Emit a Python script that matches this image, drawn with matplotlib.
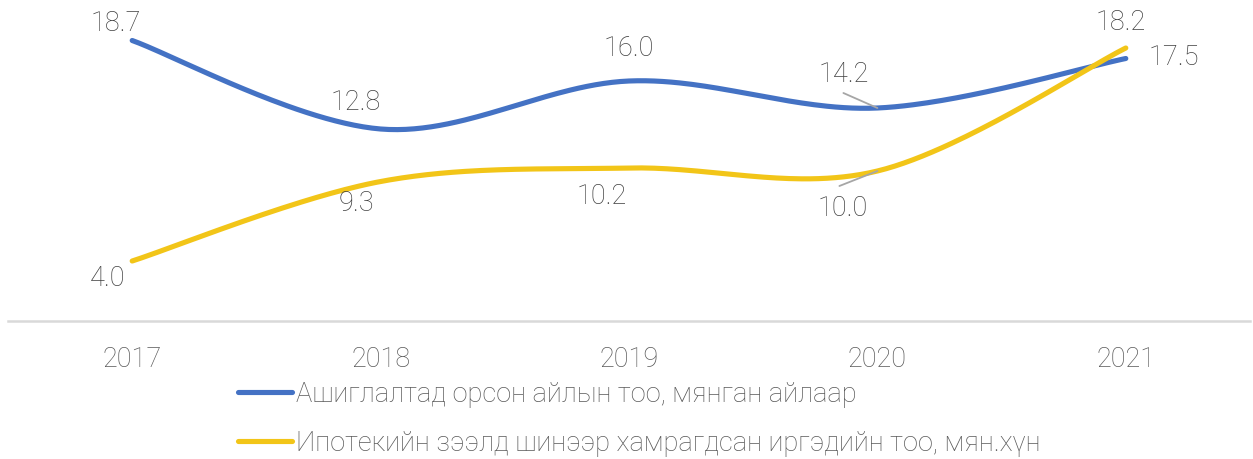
import numpy as np
import matplotlib
matplotlib.use("Agg")
import matplotlib.pyplot as plt

#Chart data
years = ["2017", "2018", "2019", "2020", "2021"]
households = [18.7, 12.8, 16.0, 14.2, 17.5]
mortgage_people = [4.0, 9.3, 10.2, 10.0, 18.2]
series_names = [
    "Ашиглалтад орсон айлын тоо, мянган айлаар",
    "Ипотекийн зээлд шинээр хамрагдсан иргэдийн тоо, мян.хүн",
]

#Label offsets in pixels (dx, dy) for each point
household_offsets = [(-16, 17), (-25, 26), (0, 33), (-34, 34), (48, 1)]
mortgage_offsets = [(-25, -18), (-24, -22), (-27, -28), (-35, -37), (-5, 26)]
#Leader line ends for the 2020 labels (pixels from the point)
household_leader = (-34, 15)
mortgage_leader = (-38, -15)

blue = "#4472C4"
yellow = "#F2C518"
text_color = "#404040"

plt.rcParams["font.family"] = ["Roboto", "DejaVu Sans"]
plt.rcParams["font.weight"] = "light"


def smooth_curve(ys, sx=248.0, sy=15.0, steps=60):
    #Excel style smoothing: bezier segments with catmull-rom control points
    pts = np.column_stack([np.arange(len(ys)) * sx, np.array(ys) * sy])
    out = []
    for i in range(len(pts) - 1):
        p0 = pts[i - 1] if i > 0 else pts[i]
        p1 = pts[i]
        p2 = pts[i + 1]
        p3 = pts[i + 2] if i + 2 < len(pts) else pts[i + 1]
        c1 = p1 + (p2 - p0) / 6
        c2 = p2 - (p3 - p1) / 6
        t = np.linspace(0, 1, steps)[:, None]
        seg = ((1 - t) ** 3) * p1 + 3 * ((1 - t) ** 2) * t * c1 + 3 * (1 - t) * t ** 2 * c2 + t ** 3 * p2
        out.append(seg if i == 0 else seg[1:])
    curve = np.vstack(out)
    return curve[:, 0] / sx, curve[:, 1] / sy


fig = plt.figure(figsize=(12.53, 4.59), dpi=100)
ax = fig.add_axes([8 / 1253, (459 - 321) / 459, 1242 / 1253, 300 / 459])

x = np.arange(len(years))

for values, color, name in [(households, blue, series_names[0]), (mortgage_people, yellow, series_names[1])]:
    cx, cy = smooth_curve(values)
    ax.plot(cx, cy, color=color, linewidth=3.7, solid_capstyle="round", label=name)

#Data labels
for values, offsets in [(households, household_offsets), (mortgage_people, mortgage_offsets)]:
    for i, (v, off) in enumerate(zip(values, offsets)):
        ax.annotate(
            f"{v:.1f}",
            xy=(x[i], v),
            xytext=off,
            textcoords="offset pixels",
            ha="center",
            va="center",
            fontsize=19.5,
            color=text_color,
        )

#Leader lines at 2020
i2020 = years.index("2020")
for values, end in [(households, household_leader), (mortgage_people, mortgage_leader)]:
    ax.annotate(
        "",
        xy=(x[i2020], values[i2020]),
        xytext=end,
        textcoords="offset pixels",
        arrowprops=dict(arrowstyle="-", color="#A6A6A6", lw=1.3, shrinkA=0, shrinkB=0),
    )

ax.set_xlim(-0.5, len(years) - 0.5)
ax.set_ylim(0, 20)
ax.set_xticks(x)
ax.set_xticklabels(years, fontsize=19.5, color="#595959")
ax.tick_params(axis="x", length=0, pad=18)
ax.set_yticks([])

for side in ["top", "right", "left"]:
    ax.spines[side].set_visible(False)
ax.spines["bottom"].set_color("#D9D9D9")
ax.spines["bottom"].set_linewidth(1.8)

fig.legend(
    loc="upper left",
    bbox_to_anchor=(227 / 1253, 1 - 370 / 459),
    frameon=False,
    fontsize=19.6,
    labelcolor="#595959",
    handlelength=2.0,
    handletextpad=0.15,
    labelspacing=0.8,
    borderaxespad=0,
)

fig.savefig("out.png", dpi=100)
